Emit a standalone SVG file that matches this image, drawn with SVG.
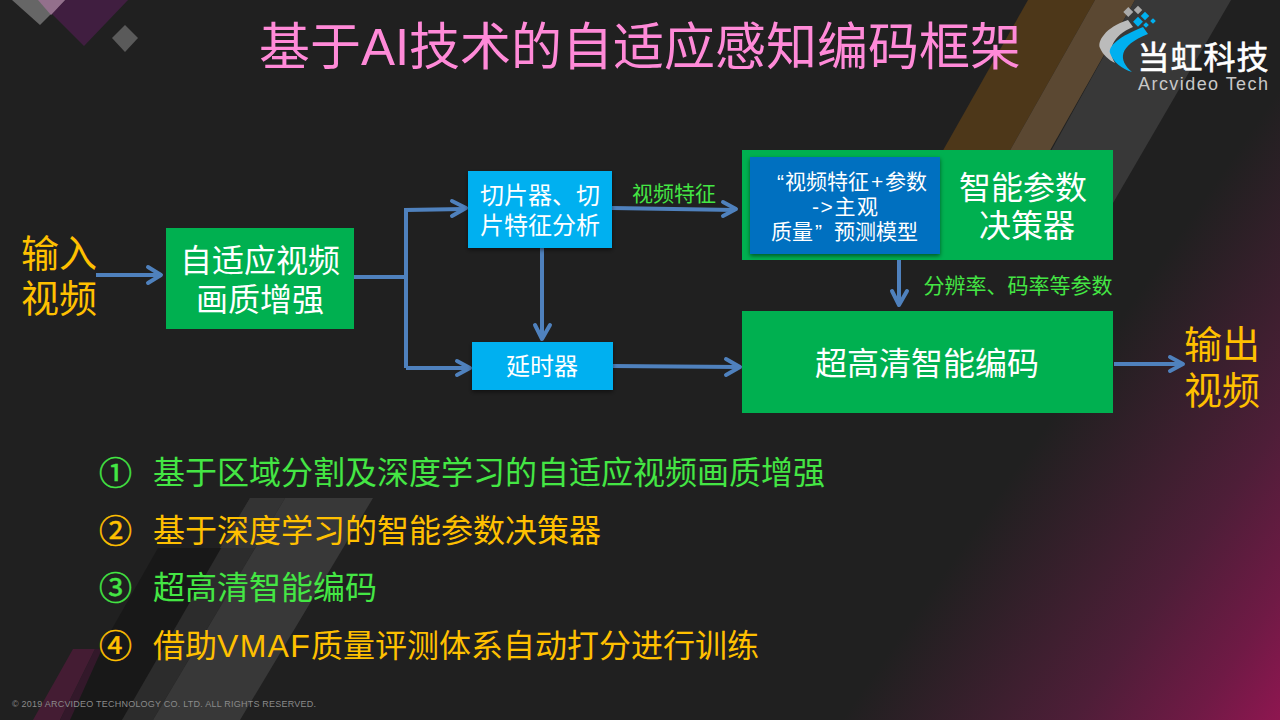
<svg xmlns="http://www.w3.org/2000/svg" width="1280" height="720" viewBox="0 0 1280 720">
<style>
text{font-family:"Liberation Sans","Noto Sans CJK SC",sans-serif;text-anchor:middle}
.w{fill:#fff}.y{fill:#ffc000}.g{fill:#44e644}.s{text-anchor:start}
.ln{fill:none;stroke:#4f81bd;stroke-width:4}
.ah{fill:none;stroke:#4f81bd;stroke-width:4;stroke-linecap:round;stroke-linejoin:round}
.grn{fill:#00b050}.cy{fill:#00b0f0}
</style>
<defs>
<linearGradient id="pk" gradientUnits="userSpaceOnUse" x1="1050" y1="420" x2="1345" y2="625"><stop offset="0" stop-color="#202020"/><stop offset=".36" stop-color="#3f1f30"/><stop offset=".53" stop-color="#4e1e38"/><stop offset=".8" stop-color="#6f1a45"/><stop offset="1" stop-color="#8e1650"/></linearGradient>
<filter id="sh" x="-10%" y="-10%" width="120%" height="125%"><feDropShadow dx="0" dy="2" stdDeviation="2" flood-color="#000" flood-opacity=".5"/></filter>
</defs>
<g id="background">
<rect width="1280" height="720" fill="url(#pk)"/>
<polygon points="1028,0 1095,0 982,200 915,200" fill="#4d3719"/>
<polygon points="1095,0 1135,0 1022,200 982,200" fill="#5b4832"/>
<polygon points="1135,0 1231,0 1113,203 1022,203" fill="#383838"/>
<polygon points="38,0 128,0 84,46" fill="#401e40"/>
<polygon points="12,0 65,0 40,25" fill="#666"/>
<polygon points="38,0 65,0 51,15" fill="#93708c"/>
<polygon points="125,25 138,38 125,52 112,38" fill="#5a5a5a"/>
<polygon points="158,548 255,548 122,720 60,720" fill="#181818"/>
<polygon points="250,498 285,498 153,720 122,720" fill="#2c2c2c"/>
<polygon points="285,498 373,498 240,720 153,720" fill="#383838"/>
<polygon points="250,498 285,498 255,548 220,548" fill="#333"/>
<polygon points="73,649 95,649 60,720 33,720" fill="#441c33"/>
<polygon points="95,649 102,649 70,720 60,720" fill="#33182a"/>
</g>
<text x="640" y="65" font-size="51" fill="#ff8ad8" id="title">基于AI技术的自适应感知编码框架</text>
<g id="logo">
<path d="M1128,20 C1105,27 1097,42 1100,48 C1103,55 1109,60 1115,63 C1107,50 1112,36 1133,27Z" fill="#bbb"/>
<path d="M1143,27 C1120,36 1108,46 1110,53 C1113,62 1122,69 1132,72 C1118,60 1118,46 1148,34Z" fill="#00b0f0"/>
<rect x="1125" y="9" width="7" height="7" fill="#aaa" transform="rotate(45 1129 12)"/>
<rect x="1135" y="7" width="6" height="6" fill="#aaa" transform="rotate(45 1138 10)"/>
<rect x="1135" y="18" width="7" height="7" fill="#00b0f0" transform="rotate(45 1138 21)"/>
<rect x="1142" y="13" width="6" height="6" fill="#00b0f0" transform="rotate(45 1145 16)"/>
<rect x="1144" y="23" width="4" height="4" fill="#00b0f0" transform="rotate(45 1146 25)"/>
<rect x="1151" y="19" width="4" height="4" fill="#00b0f0" transform="rotate(45 1153 21)"/>
<text x="1203" y="69" font-size="32" class="w" stroke="#fff" stroke-width=".6" textLength="131">当虹科技</text>
<text x="1203" y="90" font-size="18" fill="#c8c8c8" textLength="130">Arcvideo Tech</text>
</g>
<g id="connectors">
<path class="ln" d="M96,275H160"/><path class="ah" d="M148,267L161,275L148,283"/>
<path class="ln" d="M354,277H406"/>
<path class="ln" d="M406,368V210L464,209"/><path class="ah" d="M452,201L466,208L452,216"/>
<path class="ln" d="M406,368H468"/><path class="ah" d="M457,361L470,368L457,375"/>
<path class="ln" d="M542,248V337"/><path class="ah" d="M535,325L542,339L550,325"/>
<path class="ln" d="M612,208L735,210"/><path class="ah" d="M723,202L736,209L723,216"/>
<path class="ln" d="M612,366L738,367"/><path class="ah" d="M726,359L740,367L726,375"/>
<path class="ln" d="M899,256V303"/><path class="ah" d="M892,291L899,305L907,291"/>
<path class="ln" d="M1114,364H1181"/><path class="ah" d="M1170,357L1183,364L1170,371"/>
</g>
<g id="input"><text x="59" y="267" font-size="38" class="y">输入</text><text x="59" y="312" font-size="38" class="y">视频</text></g>
<g id="enhance"><rect x="166" y="228" width="188" height="101" class="grn"/><text x="260" y="272" font-size="32" class="w">自适应视频</text><text x="260" y="311" font-size="32" class="w">画质增强</text></g>
<g id="slicer"><rect x="468" y="171" width="144" height="77" class="cy" filter="url(#sh)"/><text x="540" y="204" font-size="24" class="w">切片器、切</text><text x="540" y="234" font-size="24" class="w">片特征分析</text></g>
<g id="delay"><rect x="472" y="342" width="141" height="48" class="cy" filter="url(#sh)"/><text x="542" y="375" font-size="24" class="w">延时器</text></g>
<g id="decider"><rect x="742" y="150" width="371" height="110" class="grn"/>
<rect x="750" y="157" width="190" height="97" fill="#0070c0" filter="url(#sh)"/>
<text y="189" font-size="21" class="w s"><tspan x="777">“</tspan><tspan x="785">视频特征</tspan><tspan x="871">+</tspan><tspan x="885">参数</tspan></text>
<text x="845" y="214" font-size="21" class="w" textLength="66">-&gt;主观</text>
<text y="239" font-size="21" class="w s"><tspan x="771">质量</tspan><tspan x="815">”</tspan><tspan x="834">预测模型</tspan></text>
<text x="1023" y="199" font-size="32" class="w">智能参数</text><text x="1027" y="237" font-size="32" class="w">决策器</text></g>
<g id="encoder"><rect x="742" y="311" width="371" height="102" class="grn"/><text x="927" y="375" font-size="32" class="w">超高清智能编码</text></g>
<g id="output"><text x="1222" y="358" font-size="38" class="y">输出</text><text x="1222" y="404" font-size="38" class="y">视频</text></g>
<text x="674" y="201" font-size="21" class="g">视频特征</text>
<text x="1018" y="293" font-size="21" class="g">分辨率、码率等参数</text>
<g id="list" font-size="32">
<text x="115.500" y="485" font-size="33" class="g" stroke="#44e644" stroke-width=".5">①</text><text x="153" y="484" class="g s">基于区域分割及深度学习的自适应视频画质增强</text>
<text x="115.500" y="543" font-size="33" class="y" stroke="#ffc000" stroke-width=".5">②</text><text x="153" y="542" class="y s">基于深度学习的智能参数决策器</text>
<text x="115.500" y="600" font-size="33" class="g" stroke="#44e644" stroke-width=".5">③</text><text x="153" y="599" class="g s">超高清智能编码</text>
<text x="115.500" y="658" font-size="33" class="y" stroke="#ffc000" stroke-width=".5">④</text><text x="153" y="657" class="y s">借助<tspan letter-spacing="1.3">VMAF</tspan>质量评测体系自动打分进行训练</text>
</g>
<text x="164" y="707" font-size="9" fill="#8a8a8a" textLength="304">© 2019 ARCVIDEO TECHNOLOGY CO. LTD. ALL RIGHTS RESERVED.</text>
</svg>
